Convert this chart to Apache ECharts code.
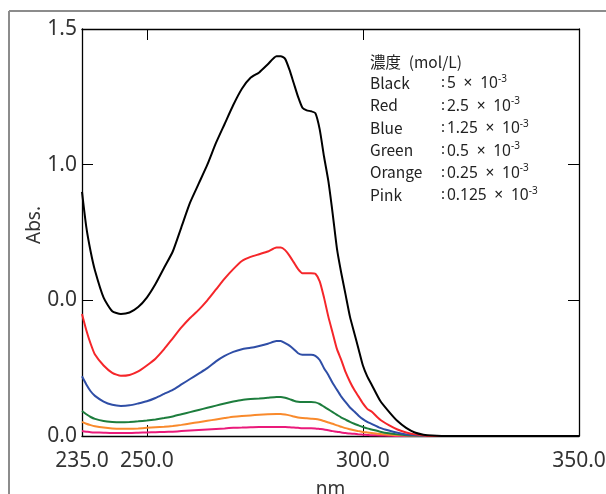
<!DOCTYPE html>
<html>
<head>
<meta charset="utf-8">
<script src="https://cdn.jsdelivr.net/npm/echarts@6/dist/echarts.min.js"></script>
<style>
html,body{margin:0;padding:0;background:#fff;overflow:hidden;}
#c{width:606px;height:494px;}
</style>
</head>
<body>
<div id="c"></div>
<script>
const wavelengths = [235,236,237,238,240,242,244,246,248,250,252,254,256,258,260,262,264,266,268,270,272,274,276,278,280,281,282,283,284,285,286,287,288,289,290,291,292,293,294,295,296,297,298,299,300,301,302,304,306,308,310,312,314,316,320,330,340,350];
const black  = [0.90,0.77,0.68,0.61,0.51,0.46,0.45,0.455,0.475,0.51,0.56,0.62,0.68,0.77,0.86,0.93,1.00,1.08,1.15,1.22,1.28,1.32,1.34,1.37,1.40,1.40,1.39,1.35,1.30,1.25,1.21,1.20,1.197,1.19,1.13,1.03,0.94,0.82,0.69,0.60,0.52,0.44,0.38,0.32,0.26,0.22,0.19,0.13,0.09,0.055,0.03,0.013,0.005,0.002,0,0,0,0];
const red    = [0.45,0.39,0.34,0.30,0.26,0.233,0.222,0.225,0.238,0.26,0.285,0.32,0.36,0.40,0.435,0.465,0.50,0.54,0.58,0.615,0.645,0.66,0.67,0.68,0.695,0.695,0.685,0.665,0.64,0.615,0.60,0.60,0.60,0.598,0.57,0.51,0.44,0.38,0.32,0.28,0.235,0.20,0.17,0.145,0.12,0.10,0.09,0.06,0.04,0.024,0.013,0.006,0.002,0,0,0,0,0];
const blue   = [0.22,0.19,0.165,0.148,0.127,0.115,0.111,0.113,0.12,0.128,0.14,0.155,0.17,0.19,0.21,0.23,0.25,0.275,0.295,0.31,0.32,0.325,0.332,0.34,0.35,0.35,0.342,0.333,0.32,0.305,0.299,0.299,0.299,0.295,0.28,0.25,0.225,0.195,0.17,0.145,0.125,0.105,0.09,0.075,0.062,0.052,0.045,0.03,0.02,0.012,0.006,0.003,0.001,0,0,0,0,0];
const green  = [0.092,0.08,0.07,0.063,0.055,0.052,0.051,0.052,0.054,0.057,0.061,0.066,0.072,0.08,0.088,0.096,0.104,0.112,0.12,0.127,0.133,0.136,0.138,0.141,0.144,0.144,0.141,0.136,0.13,0.126,0.125,0.125,0.125,0.124,0.118,0.108,0.098,0.088,0.078,0.068,0.06,0.052,0.045,0.039,0.033,0.028,0.024,0.016,0.01,0.006,0.003,0.002,0.001,0,0,0,0,0];
const orange = [0.052,0.045,0.04,0.036,0.031,0.028,0.027,0.027,0.028,0.03,0.032,0.034,0.037,0.041,0.046,0.051,0.056,0.061,0.066,0.071,0.074,0.076,0.078,0.08,0.081,0.081,0.079,0.076,0.072,0.068,0.066,0.065,0.064,0.063,0.06,0.055,0.05,0.045,0.039,0.034,0.029,0.025,0.021,0.018,0.015,0.013,0.011,0.007,0.005,0.003,0.002,0.001,0,0,0,0,0,0];
const pink   = [0.018,0.016,0.014,0.013,0.012,0.011,0.011,0.011,0.012,0.013,0.014,0.015,0.016,0.018,0.02,0.022,0.024,0.026,0.028,0.03,0.031,0.032,0.033,0.033,0.033,0.033,0.033,0.032,0.031,0.03,0.029,0.029,0.029,0.028,0.026,0.024,0.021,0.018,0.016,0.013,0.011,0.009,0.008,0.006,0.005,0.004,0.003,0.002,0.001,0,0,0,0,0,0,0,0,0];

const xTickLabelValues = [235,250,300,350];
const xTickMarks = [250,300];
const yTickValues = [0,0.5,1.0,1.5];
const yTickLabels = ["0.0","0.0","1.0","1.5"];
const yTickMarks = [0.5,1.0];

const legendTitle = "濃度\u2002(mol/L)";
const legendNames = ["Black","Red","Blue","Green","Orange","Pink"];
const legendValues = ["5","2.5","1.25","0.5","0.25","0.125"];

const seriesList = [
  {name:"Black", data:black, color:"#000000"},
  {name:"Red", data:red, color:"#f5262a"},
  {name:"Blue", data:blue, color:"#2f4ea6"},
  {name:"Green", data:green, color:"#1d7d3d"},
  {name:"Orange", data:orange, color:"#f98a2c"},
  {name:"Pink", data:pink, color:"#ea1a7a"}
];

const chart = echarts.init(document.getElementById('c'), null, {renderer:'canvas', width:606, height:494});
const tickFont = "'Noto Sans', 'DejaVu Sans', sans-serif";
const legFont = "'Noto Sans CJK JP', 'Noto Sans', sans-serif";
const valFont = "'Noto Sans', 'DejaVu Sans', sans-serif";

const graphics = [
  {type:'line', shape:{x1:9, y1:11, x2:606, y2:11}, style:{stroke:'#8c8c8c', lineWidth:2}, silent:true},
  {type:'line', shape:{x1:9, y1:11, x2:9, y2:494}, style:{stroke:'#8c8c8c', lineWidth:2}, silent:true},
  {type:'text', x:35, y:225, rotation:Math.PI/2, style:{text:'Abs.', font:"19px " + tickFont, fill:'#333', align:'center', verticalAlign:'middle'}},
  {type:'text', x:370, y:62, style:{text:legendTitle, font:"15.5px " + legFont, fill:'#222', verticalAlign:'middle'}}
];
legendNames.forEach((n,i)=>{
  const y = 83 + i*22.4;
  graphics.push({type:'text', x:370, y:y, style:{text:n, font:"15.5px " + legFont, fill:'#222', verticalAlign:'middle'}});
  graphics.push({type:'text', x:441, y:y, style:{text:':', font:"15px " + valFont, fill:'#222', verticalAlign:'middle'}});
  graphics.push({type:'text', x:447, y:y, style:{
    text:'{m|' + legendValues[i] + '\u2002×\u200210}{s|-3}',
    verticalAlign:'middle',
    rich:{
      m:{fontSize:15.5, fontFamily:valFont, fill:'#222', lineHeight:18, verticalAlign:'bottom'},
      s:{fontSize:10, fontFamily:valFont, fill:'#222', lineHeight:18, verticalAlign:'top'}
    }
  }});
});

const option = {
  animation:false,
  backgroundColor:'#ffffff',
  grid:{left:82, top:29, right:27, bottom:58, containLabel:false, outerBoundsMode:'none'},
  xAxis:[
    {type:'value', min:235, max:350, position:'bottom',
     name:'nm', nameLocation:'middle', nameGap:44,
     nameTextStyle:{fontSize:19, color:'#333', fontFamily:tickFont},
     axisLine:{show:true, onZero:false, lineStyle:{color:'#000', width:1.3}},
     axisTick:{show:true, inside:true, length:11, customValues:xTickMarks, lineStyle:{color:'#000', width:1}},
     axisLabel:{show:true, customValues:xTickLabelValues, formatter:v=>Number(v).toFixed(1), fontSize:21, color:'#333', margin:15, fontFamily:tickFont},
     splitLine:{show:false}},
    {type:'value', min:235, max:350, position:'top',
     axisLine:{show:true, onZero:false, lineStyle:{color:'#000', width:1.3}},
     axisTick:{show:true, inside:true, length:11, customValues:xTickMarks, lineStyle:{color:'#000', width:1}},
     axisLabel:{show:false}, splitLine:{show:false}}
  ],
  yAxis:[
    {type:'value', min:0, max:1.5, position:'left',
     axisLine:{show:true, onZero:false, lineStyle:{color:'#000', width:1.3}},
     axisTick:{show:true, inside:true, length:11, customValues:yTickMarks, lineStyle:{color:'#000', width:1}},
     axisLabel:{show:true, customValues:yTickValues, formatter:v=>{const i=yTickValues.findIndex(t=>Math.abs(t-v)<1e-9); return i>=0?yTickLabels[i]:'';}, fontSize:21, color:'#333', margin:5, fontFamily:tickFont},
     splitLine:{show:false}},
    {type:'value', min:0, max:1.5, position:'right',
     axisLine:{show:true, onZero:false, lineStyle:{color:'#000', width:1.3}},
     axisTick:{show:true, inside:true, length:11, customValues:yTickMarks, lineStyle:{color:'#000', width:1}},
     axisLabel:{show:false}, splitLine:{show:false}}
  ],
  series: seriesList.slice().reverse().map(s=>({
    name:s.name, type:'line', xAxisIndex:0, yAxisIndex:0,
    data: wavelengths.map((w,i)=>[w, s.data[i]]),
    showSymbol:false, symbol:'none', smooth:0.2, clip:false,
    lineStyle:{color:s.color, width:2}, itemStyle:{color:s.color}
  })),
  graphic: graphics
};
chart.setOption(option);
</script>
</body>
</html>
